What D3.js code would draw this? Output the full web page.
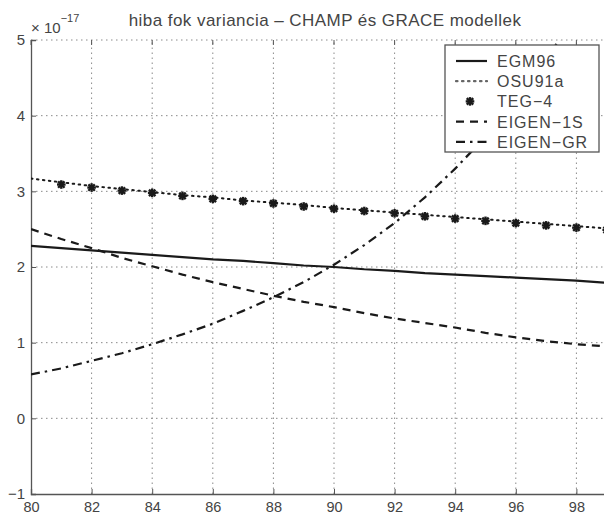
<!DOCTYPE html>
<html><head><meta charset="utf-8">
<script src="https://cdn.jsdelivr.net/npm/d3@7"></script>
<style>body{margin:0;background:#fff}svg{display:block}</style>
</head><body>
<script>
const degrees = d3.range(80, 101);
const egm96   = [2.28,2.25,2.22,2.19,2.16,2.13,2.10,2.08,2.05,2.02,2.00,1.97,1.95,1.92,1.90,1.88,1.86,1.84,1.82,1.79,1.77];
const osu91a  = [3.17,3.12,3.07,3.03,2.99,2.95,2.92,2.88,2.85,2.82,2.78,2.75,2.72,2.69,2.66,2.63,2.60,2.57,2.54,2.51,2.48];
const tegDeg  = d3.range(81, 101);
const teg4    = [3.09,3.05,3.01,2.98,2.94,2.90,2.87,2.84,2.80,2.77,2.74,2.71,2.67,2.64,2.61,2.58,2.55,2.52,2.49,2.46];
const eigen1s = [2.50,2.37,2.25,2.12,2.01,1.90,1.80,1.71,1.62,1.54,1.47,1.39,1.32,1.26,1.20,1.13,1.07,1.02,0.98,0.95,0.92];
const eigenGr = [0.58,0.66,0.76,0.86,0.98,1.11,1.25,1.42,1.60,1.80,2.03,2.29,2.58,2.92,3.30,3.72,4.20,4.74,5.35,6.0,6.8];
const xTicks = [80,82,84,86,88,90,92,94,96,98];
const yTicks = [-1,0,1,2,3,4,5];
const legendNames = ["EGM96","OSU91a","TEG-4","EIGEN-1S","EIGEN-GR"];
const titleText = "hiba fok variancia – CHAMP és GRACE modellek";

const W = 604, H = 518;
const svg = d3.select("body").append("svg").attr("width", W).attr("height", H);
const font = "Liberation Sans, Arial, Helvetica, sans-serif";
const x = d3.scaleLinear().domain([80,100]).range([31, 637]);
const y = d3.scaleLinear().domain([-1,5]).range([494, 40]);
const ink = "#1a1a1a", txt = "#444";

svg.append("defs").append("clipPath").attr("id","clip")
  .append("rect").attr("x",x(80)).attr("y",y(5)).attr("width",x(100)-x(80)).attr("height",y(-1)-y(5));

// grid
const grid = svg.append("g").attr("stroke","#8a8a8a").attr("stroke-width",1).attr("stroke-dasharray","1.5,3.5");
grid.selectAll(".gx").data(xTicks.filter(d=>d>80)).join("line")
  .attr("x1",d=>x(d)).attr("x2",d=>x(d)).attr("y1",y(-1)).attr("y2",y(5));
grid.selectAll(".gy").data(yTicks.filter(d=>d>-1)).join("line")
  .attr("x1",x(80)).attr("x2",x(100)).attr("y1",d=>y(d)).attr("y2",d=>y(d));

// axes
const xAxis = d3.axisBottom(x).tickValues(xTicks).tickSize(-5).tickPadding(8).tickFormat(d3.format("d"));
const gx = svg.append("g").attr("transform",`translate(0,${y(-1)})`).call(xAxis);
gx.select(".domain").attr("stroke","#555").attr("stroke-width",1.3);
gx.selectAll(".tick line").attr("stroke","#555");
gx.selectAll("text").attr("font-family",font).attr("font-size",14.5).attr("fill",txt);

const yAxis = d3.axisLeft(y).tickValues(yTicks).tickSize(-5).tickPadding(6).tickFormat(d3.format("d"));
const gy = svg.append("g").attr("transform",`translate(${x(80)},0)`).call(yAxis);
gy.select(".domain").attr("stroke","#555").attr("stroke-width",1.3);
gy.selectAll(".tick line").attr("stroke","#555");
gy.selectAll("text").attr("font-family",font).attr("font-size",15).attr("fill",txt).text(d=>d<0?"−"+Math.abs(d):d);

// top ticks
svg.append("g").selectAll("line").data(xTicks).join("line")
  .attr("x1",d=>x(d)).attr("x2",d=>x(d)).attr("y1",y(5)).attr("y2",y(5)+5).attr("stroke","#555");

// exponent
const ex = svg.append("text").attr("x",31).attr("y",33).attr("font-family",font).attr("font-size",15).attr("fill",txt);
ex.append("tspan").text("× 10");
ex.append("tspan").attr("dy",-11).attr("font-size",11).text("−17");

// title
svg.append("text").attr("x",325).attr("y",26).attr("text-anchor","middle")
  .attr("font-family",font).attr("font-size",17).attr("letter-spacing",0.45).attr("fill",txt).text(titleText);

// series
const plot = svg.append("g").attr("clip-path","url(#clip)");
const line = d3.line().x(d=>x(d[0])).y(d=>y(d[1]));
const styles = [
  {data:egm96, dash:null},
  {data:osu91a, dash:"1.5,4.5"},
  {data:eigen1s, dash:"8,6"},
  {data:eigenGr, dash:"9,5,2.5,5"}
];
styles.forEach(s=>{
  plot.append("path").datum(degrees.map((d,i)=>[d,s.data[i]]))
    .attr("d",line).attr("fill","none").attr("stroke",ink)
    .attr("stroke-width",s.dash==="1.5,4.5"?2:2.2).attr("stroke-dasharray",s.dash)
    .attr("stroke-linecap", s.dash==="1.5,4.5"?"round":"butt");
});
function asterisk(g, cx, cy, r){
  const a = g.append("g").attr("transform",`translate(${cx},${cy})`).attr("stroke",ink).attr("stroke-width",2.4);
  a.append("line").attr("x1",-r).attr("x2",r).attr("y1",0).attr("y2",0);
  a.append("line").attr("x1",0).attr("x2",0).attr("y1",-r).attr("y2",r);
  a.append("line").attr("x1",-r*0.75).attr("x2",r*0.75).attr("y1",-r*0.75).attr("y2",r*0.75);
  a.append("line").attr("x1",-r*0.75).attr("x2",r*0.75).attr("y1",r*0.75).attr("y2",-r*0.75);
}
tegDeg.forEach((d,i)=>asterisk(plot, x(d), y(teg4[i]), 4.3));

// legend
const lg = svg.append("g");
lg.append("rect").attr("x",445).attr("y",45).attr("width",154).attr("height",107)
  .attr("fill","#fff").attr("stroke","#555").attr("stroke-width",1.3);
const legDash = [null,"1.5,4.5","marker","8,6","9,5,2.5,5"];
legendNames.forEach((n,i)=>{
  const yy = 61 + i*20.2;
  if (legDash[i]==="marker") asterisk(lg, 470, yy, 4.3);
  else lg.append("line").attr("x1",456).attr("x2",487).attr("y1",yy).attr("y2",yy)
    .attr("stroke",legDash[i]==="1.5,4.5"?"#666":ink).attr("stroke-width",2.2).attr("stroke-dasharray",legDash[i])
    .attr("stroke-linecap", legDash[i]==="1.5,4.5"?"round":"butt");
  lg.append("text").attr("x",497).attr("y",yy+6).attr("font-family",font).attr("font-size",16)
    .attr("letter-spacing",1).attr("fill",txt).text(n.replace("-","−"));
});
</script>
</body></html>
